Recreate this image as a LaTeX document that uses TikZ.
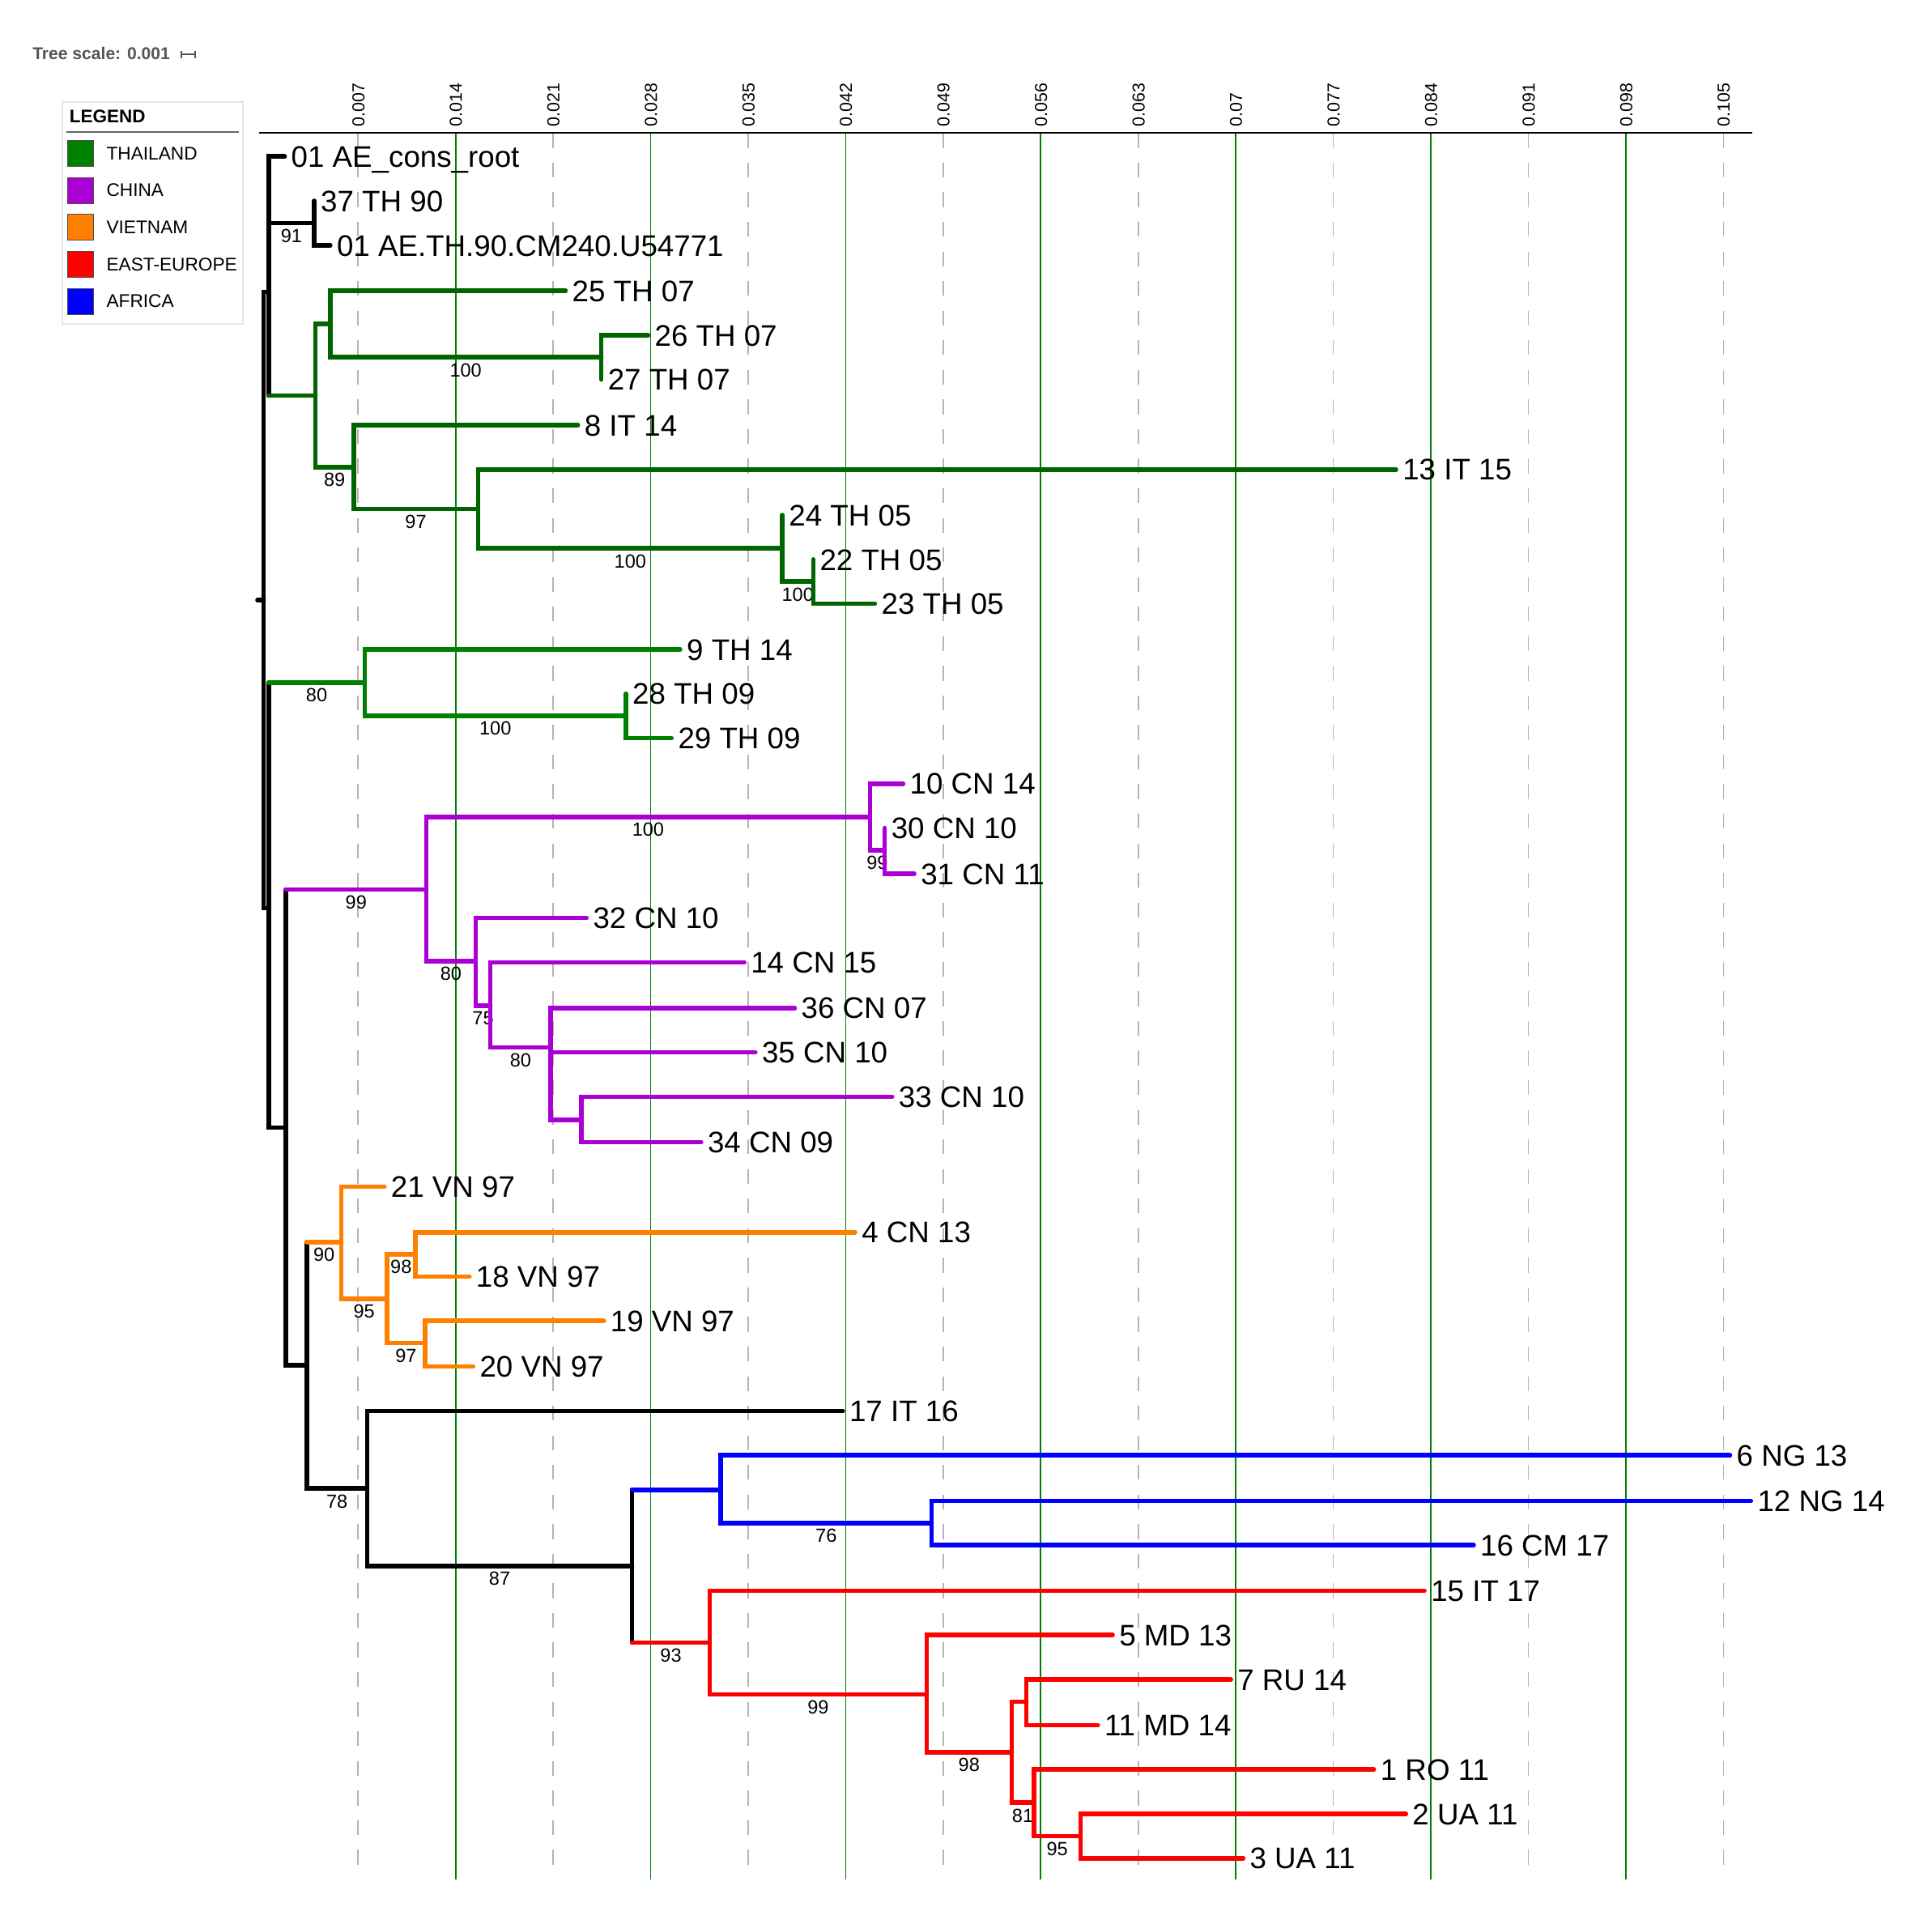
\documentclass[tikz,border=0pt]{standalone}
\usepackage{fontspec}
\setmainfont{Liberation Sans}
\definecolor{thaiD}{RGB}{0,100,0}
\definecolor{thaiL}{RGB}{0,128,0}
\definecolor{china}{RGB}{170,0,212}
\definecolor{vietnam}{RGB}{255,128,0}
\definecolor{europe}{RGB}{255,0,0}
\definecolor{africa}{RGB}{0,0,255}
\definecolor{gridgrey}{RGB}{180,180,180}
\definecolor{scalegrey}{RGB}{85,85,85}
\begin{document}
\begin{tikzpicture}[x=0.15217mm, y=-0.15217mm,
    br/.style = {line width=1.6pt, line cap=round},
    leaf/.style = {anchor=west, inner xsep=0.75mm, inner ysep=0pt, font=\fontsize{10.45}{12}\selectfont, text height=7.5pt, text depth=0pt},
    boot/.style = {anchor=north, inner sep=0.42mm, text=black, font=\fontsize{6.7}{8}\selectfont, text height=4.8pt, text depth=0pt},
    tick/.style = {rotate=90, anchor=west, inner sep=0.6mm, font=\fontsize{6.1}{7}\selectfont, text height=4.4pt, text depth=0pt},
    legtext/.style = {anchor=west, inner sep=0pt, font=\fontsize{6.45}{8}\selectfont},
    swatch/.style = {draw=black!70, line width=0.3pt}]
  \useasboundingbox (0,0) rectangle (1568,1561);

  % scale, legend
  \node[anchor=west, inner sep=0pt, text=scalegrey, font=\bfseries\fontsize{6.0}{7}\selectfont] (tscale) at (26,43.5) {Tree scale: 0.001};
  \draw[scalegrey, line width=0.5pt] (147,41.5) -- (147,47) (147,44.2) -- (158.3,44.2) (158.3,41.5) -- (158.3,47);
  \draw[black!10, line width=0.5pt] (50.5,83) rectangle (197,263);
  \node[anchor=west, inner sep=0pt, font=\bfseries\fontsize{6.4}{8}\selectfont] (legtitle) at (56,94.5) {LEGEND};
  \draw[black!60, line width=0.5pt] (54,107) -- (194,107);
  \foreach \c/\t [count=\k] in {thaiL/THAILAND, china/CHINA, vietnam/VIETNAM, europe/EAST-EUROPE, africa/AFRICA} {
    \draw[swatch, fill=\c] (55,84+30*\k) rectangle (76,105+30*\k);
    \node[legtext] (leg\k) at (86,94.5+30*\k) {\t};
  }

  % axis and grid
  \foreach \i/\lab in {1/0.007,3/0.021,5/0.035,7/0.049,9/0.063,11/0.077,13/0.091,15/0.105} {
    \draw[gridgrey, line width=0.45pt, dash pattern=on 5.2pt off 5.2pt] (211.5+79.15*\i,108) -- (211.5+79.15*\i,1525);
    \node[tick] (t\i) at (211.5+79.15*\i,107) {\lab};
  }
  \foreach \i/\lab in {2/0.014,4/0.028,6/0.042,8/0.056,10/0.07,12/0.084,14/0.098} {
    \draw[thaiL, line width=0.5pt] (211.5+79.15*\i,108) -- (211.5+79.15*\i,1525);
    \node[tick] (t\i) at (211.5+79.15*\i,107) {\lab};
  }
  \draw[line width=0.5pt] (210,108) -- (1422,108);

  % inner nodes
  \coordinate (root) at (209,487);  \coordinate (rt) at (214,487);
  \coordinate (nA) at (218,237);    \coordinate (nB) at (218,737);
  \coordinate (n91) at (255,181);   \coordinate (nTa) at (256,321);
  \coordinate (n25) at (268,263);   \coordinate (n26) at (488,290);
  \coordinate (n8) at (287,379);    \coordinate (n13) at (388,413);
  \coordinate (n24) at (635,445);   \coordinate (n22) at (660,472);
  \coordinate (nTb) at (296,554);   \coordinate (n28) at (508,581);
  \coordinate (nC) at (232,915);    \coordinate (nCN) at (346,722);
  \coordinate (n10) at (706,663);   \coordinate (n30) at (718,690);
  \coordinate (n32) at (386,780);   \coordinate (n14) at (398,816);
  \coordinate (n36) at (447,850);   \coordinate (n33) at (472,909);
  \coordinate (nV) at (249,1108);   \coordinate (nVN) at (277,1008);
  \coordinate (n4) at (314,1054);   \coordinate (n4b) at (337,1018);
  \coordinate (n19) at (345,1090);  \coordinate (n17) at (298,1208);
  \coordinate (nAE) at (513,1271);  \coordinate (nAF) at (585,1209);
  \coordinate (n12) at (756,1236);  \coordinate (nEU) at (576,1333);
  \coordinate (n5) at (752,1375);   \coordinate (n7) at (821,1422);
  \coordinate (n7b) at (833,1381);  \coordinate (n1) at (839,1463);
  \coordinate (n2) at (877,1490);

  % leaves
  \node[leaf] (cons) at (231,127) {01 AE\_cons\_root};
  \node[leaf] (l37) at (255,163) {37 TH 90};
  \node[leaf] (lcm) at (268,199) {01 AE.TH.90.CM240.U54771};
  \node[leaf] (l25) at (459,236) {25 TH 07};
  \node[leaf] (l26) at (526,272) {26 TH 07};
  \node[leaf] (l27) at (488,308) {27 TH 07};
  \node[leaf] (l8) at (469,345) {8 IT 14};
  \node[leaf] (l13) at (1133,381) {13 IT 15};
  \node[leaf] (l24) at (635,418) {24 TH 05};
  \node[leaf] (l22) at (660,454) {22 TH 05};
  \node[leaf] (l23) at (710,490) {23 TH 05};
  \node[leaf] (l9) at (552,527) {9 TH 14};
  \node[leaf] (l28) at (508,563) {28 TH 09};
  \node[leaf] (l29) at (545,599) {29 TH 09};
  \node[leaf] (l10) at (733,636) {10 CN 14};
  \node[leaf] (l30) at (718,672) {30 CN 10};
  \node[leaf] (l31) at (742,709) {31 CN 11};
  \node[leaf] (l32) at (476,745) {32 CN 10};
  \node[leaf] (l14) at (604,781) {14 CN 15};
  \node[leaf] (l36) at (645,818) {36 CN 07};
  \node[leaf] (l35) at (613,854) {35 CN 10};
  \node[leaf] (l33) at (724,890) {33 CN 10};
  \node[leaf] (l34) at (569,927) {34 CN 09};
  \node[leaf] (l21) at (312,963) {21 VN 97};
  \node[leaf] (l4) at (694,1000) {4 CN 13};
  \node[leaf] (l18) at (381,1036) {18 VN 97};
  \node[leaf] (l19) at (490,1072) {19 VN 97};
  \node[leaf] (l20) at (384,1109) {20 VN 97};
  \node[leaf] (l17) at (684,1145) {17 IT 16};
  \node[leaf] (l6) at (1404,1181) {6 NG 13};
  \node[leaf] (l12) at (1421,1218) {12 NG 14};
  \node[leaf] (l16) at (1196,1254) {16 CM 17};
  \node[leaf] (l15) at (1156,1291) {15 IT 17};
  \node[leaf] (l5) at (903,1327) {5 MD 13};
  \node[leaf] (l7) at (999,1363) {7 RU 14};
  \node[leaf] (l11) at (891,1400) {11 MD 14};
  \node[leaf] (l1) at (1115,1436) {1 RO 11};
  \node[leaf] (l2) at (1141,1472) {2 UA 11};
  \node[leaf] (l3) at (1009,1508) {3 UA 11};

  % branches
  \draw[br] (root) -- (rt);
  \draw[br] (nA) -- (rt |- nA) -- (rt |- nB) -- (nB);
  \draw[br] (cons.west) -- (nA |- cons) -- (nA |- nTa);
  \draw[br] (nA |- n91) -- node[boot] (b91) {91} (n91);
  \draw[br] (l37.west) -- (n91 |- l37) -- (n91 |- lcm) -- (lcm.west);
  \draw[br, thaiD] (nA |- nTa) -- (nTa);
  \draw[br, thaiD] (n25) -- (nTa |- n25) -- (nTa |- n8) -- node[boot] (b89) {89} (n8);
  \draw[br, thaiD] (l25.west) -- (n25 |- l25) -- (n25 |- n26) -- node[boot] (b26) {100} (n26);
  \draw[br, thaiD] (l26.west) -- (n26 |- l26) -- (n26 |- l27) -- (l27.west);
  \draw[br, thaiD] (l8.west) -- (n8 |- l8) -- (n8 |- n13) -- node[boot] (b13) {97} (n13);
  \draw[br, thaiD] (l13.west) -- (n13 |- l13) -- (n13 |- n24) -- node[boot] (b24) {100} (n24);
  \draw[br, thaiD] (l24.west) -- (n24 |- l24) -- (n24 |- n22) -- node[boot] (b22) {100} (n22);
  \draw[br, thaiD] (l22.west) -- (n22 |- l22) -- (n22 |- l23) -- (l23.west);

  \draw[br] (nB |- nTb) -- (nB |- nC) -- (nC);
  \draw[br, thaiL] (nB |- nTb) -- node[boot] (bTb) {80} (nTb);
  \draw[br, thaiL] (l9.west) -- (nTb |- l9) -- (nTb |- n28) -- node[boot] (b28) {100} (n28);
  \draw[br, thaiL] (l28.west) -- (n28 |- l28) -- (n28 |- l29) -- (l29.west);

  \draw[br] (nC |- nCN) -- (nC |- nV) -- (nV);
  \draw[br, china] (nC |- nCN) -- node[boot] (bCN) {99} (nCN);
  \draw[br, china] (n10) -- node[boot] (b10) {100} (nCN |- n10) -- (nCN |- n32) -- node[boot] (b32) {80} (n32);
  \draw[br, china] (l10.west) -- (n10 |- l10) -- (n10 |- n30) -- node[boot] (b30) {99} (n30);
  \draw[br, china] (l30.west) -- (n30 |- l30) -- (n30 |- l31) -- (l31.west);
  \draw[br, china] (l32.west) -- (n32 |- l32) -- (n32 |- n14) -- node[boot] (b14) {75} (n14);
  \draw[br, china] (l14.west) -- (n14 |- l14) -- (n14 |- n36) -- node[boot] (b36) {80} (n36);
  \draw[br, china] (l36.west) -- (n36 |- l36) -- (n36 |- n33) -- (n33);
  \draw[br, china] (n36 |- l35) -- (l35.west);
  \draw[br, china] (l33.west) -- (n33 |- l33) -- (n33 |- l34) -- (l34.west);

  \draw[br] (nV |- nVN) -- (nV |- n17) -- node[boot] (b17) {78} (n17);
  \draw[br, vietnam] (nV |- nVN) -- node[boot] (bVN) {90} (nVN);
  \draw[br, vietnam] (l21.west) -- (nVN |- l21) -- (nVN |- n4) -- node[boot] (b4) {95} (n4);
  \draw[br, vietnam] (n4b) -- node[boot] (b4b) {98} (n4 |- n4b) -- (n4 |- n19) -- node[boot] (b19) {97} (n19);
  \draw[br, vietnam] (l4.west) -- (n4b |- l4) -- (n4b |- l18) -- (l18.west);
  \draw[br, vietnam] (l19.west) -- (n19 |- l19) -- (n19 |- l20) -- (l20.west);

  \draw[br] (l17.west) -- (n17 |- l17) -- (n17 |- nAE) -- node[boot] (bAE) {87} (nAE);
  \draw[br] (nAE |- nAF) -- (nAE |- nEU);
  \draw[br, africa] (nAE |- nAF) -- (nAF);
  \draw[br, europe] (nAE |- nEU) -- node[boot] (bEU) {93} (nEU);
  \draw[br, africa] (l6.west) -- (nAF |- l6) -- (nAF |- n12) -- node[boot] (b12) {76} (n12);
  \draw[br, africa] (l12.west) -- (n12 |- l12) -- (n12 |- l16) -- (l16.west);
  \draw[br, europe] (l15.west) -- (nEU |- l15) -- (nEU |- n5) -- node[boot] (b5) {99} (n5);
  \draw[br, europe] (l5.west) -- (n5 |- l5) -- (n5 |- n7) -- node[boot] (b7) {98} (n7);
  \draw[br, europe] (n7b) -- (n7 |- n7b) -- (n7 |- n1) -- node[boot] (b1) {81} (n1);
  \draw[br, europe] (l7.west) -- (n7b |- l7) -- (n7b |- l11) -- (l11.west);
  \draw[br, europe] (l1.west) -- (n1 |- l1) -- (n1 |- n2) -- node[boot] (b2) {95} (n2);
  \draw[br, europe] (l2.west) -- (n2 |- l2) -- (n2 |- l3) -- (l3.west);
\end{tikzpicture}
\end{document}
